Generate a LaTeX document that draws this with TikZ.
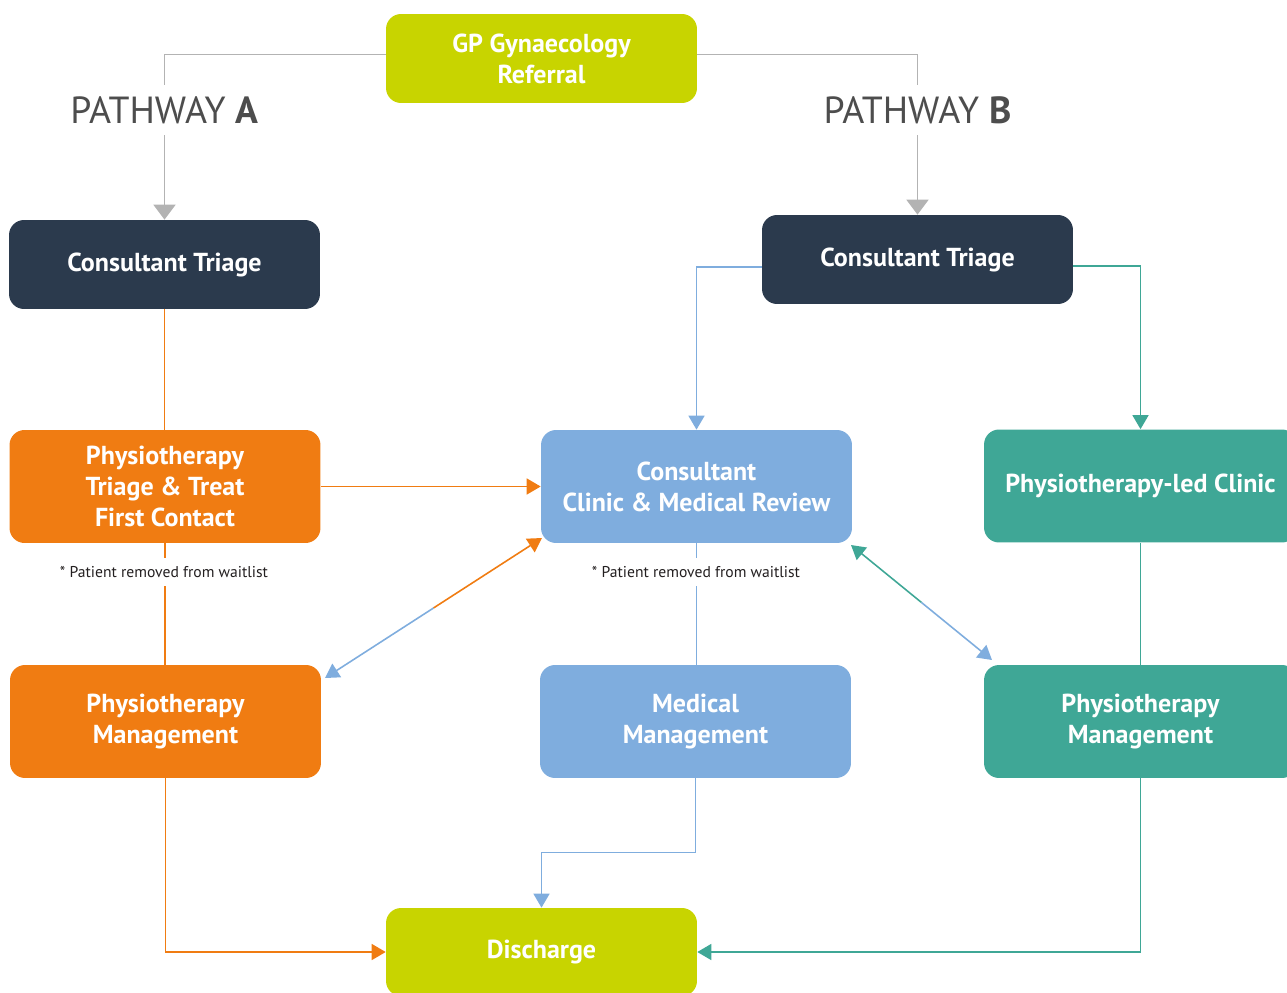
\documentclass[tikz,border=0pt]{standalone}
\usepackage{fontspec}
\setmainfont{PT Sans}
\usetikzlibrary{arrows.meta,calc}
\definecolor{lime}{HTML}{C8D400}
\definecolor{navy}{HTML}{2B3A4D}
\definecolor{orng}{HTML}{F07C12}
\definecolor{skyb}{HTML}{7FADDE}
\definecolor{tealc}{HTML}{3FA796}
\definecolor{gry}{HTML}{B3B3B3}
\definecolor{txtg}{HTML}{4D4D4D}
\definecolor{notec}{HTML}{231F20}
\begin{document}
\begin{tikzpicture}[x=0.02cm,y=-0.02cm,
  box/.style={rounded corners=0.3cm, minimum width=6.22cm, text=white,
    font=\fontsize{14.8}{17.6}\selectfont\bfseries, align=center, inner sep=0pt},
  tall/.style={box, minimum height=2.26cm},
  short/.style={box, minimum height=1.78cm},
  ctip/.style={-{Triangle[width=0.32cm,length=0.28cm]}},
  gline/.style={draw=gry, line width=1.1pt, -{Triangle[width=0.44cm,length=0.3cm]}},
  oline/.style={draw=orng, line width=0.9pt},
  bline/.style={draw=skyb, line width=0.9pt},
  tline/.style={draw=tealc, line width=0.9pt},
  pathlabel/.style={fill=white, text=txtg, font=\fontsize{21.5}{24}\selectfont, minimum height=1.02cm, inner xsep=3pt},
  note/.style={fill=white, text=notec, font=\fontsize{8.9}{10}\selectfont, minimum height=0.56cm, inner xsep=1pt}
]
\useasboundingbox (0,0) rectangle (1287,993);

% nodes
\node[short, fill=lime] (GP) at (541.5,58.5) {GP Gynaecology\\Referral};
\node[short, fill=navy] (CTA) at (164.5,264.5) {Consultant Triage};
\node[short, fill=navy] (CTB) at (917.5,259.5) {Consultant Triage};
\node[tall, fill=orng] (PTT) at (165,486.5) {Physiotherapy\\Triage \& Treat\\First Contact};
\node[tall, fill=skyb] (CC) at (696.5,486.5) {Consultant\\Clinic \& Medical Review};
\node[tall, fill=tealc, minimum width=6.26cm] (PLC) at (1140.5,486) {Physiotherapy-led Clinic};
\node[tall, fill=orng] (PMA) at (165.5,721.5) {Physiotherapy\\Management};
\node[tall, fill=skyb] (MM) at (695.5,721.5) {Medical\\Management};
\node[tall, fill=tealc, minimum width=6.26cm] (PMB) at (1140.5,721.5) {Physiotherapy\\Management};
\node[box, fill=lime, minimum height=1.76cm] (DIS) at (541.5,952) {Discharge};

% gray connectors with pathway labels
\draw[gline] ($(GP.west)+(0,-4)$) -| (CTA.north);
\draw[gline] ($(GP.east)+(0,-4)$) -| (CTB.north);
\node[pathlabel] (LA) at (164.5,110) {PATHWAY \textbf{A}};
\node[pathlabel] (LB) at (917.5,110) {PATHWAY \textbf{B}};

% pathway A
\draw[oline] (CTA.south) -- (CTA.south |- PTT.north);
\draw[oline] (PTT.south) -- (PTT.south |- PMA.north);
\node[note] (NA) at (164,572) {* Patient removed from waitlist};
\draw[oline, ctip] (PTT.east) -- (CC.west);
\draw[oline, ctip] (PMA.south) |- (DIS.west);

% pathway B
\draw[bline, ctip] ($(CTB.west)+(0,7.5)$) -| (CC.north);
\draw[tline, ctip] ($(CTB.east)+(0,6.5)$) -| (PLC.north);
\draw[bline] (CC.south) -- (CC.south |- MM.north);
\node[note] (NB) at (696,572) {* Patient removed from waitlist};
\draw[tline] (PLC.south) -- (PMB.north);
\draw[bline, ctip] (MM.south) -- ($(MM.south)+(0,74)$) -| (DIS.north);
\draw[tline, ctip] (PMB.south) |- (DIS.east);

% double-headed diagonal connectors
\coordinate (a1) at (542,538);
\coordinate (a2) at (325,678);
\coordinate (am) at ($(a1)!0.5!(a2)$);
\draw[oline, ctip] (am) -- (a1);
\draw[bline, ctip] (am) -- (a2);
\coordinate (b1) at (851,545);
\coordinate (b2) at (992,660);
\coordinate (bm) at ($(b1)!0.5!(b2)$);
\draw[tline, ctip] (bm) -- (b1);
\draw[bline, ctip] (bm) -- (b2);
\end{tikzpicture}
\end{document}
